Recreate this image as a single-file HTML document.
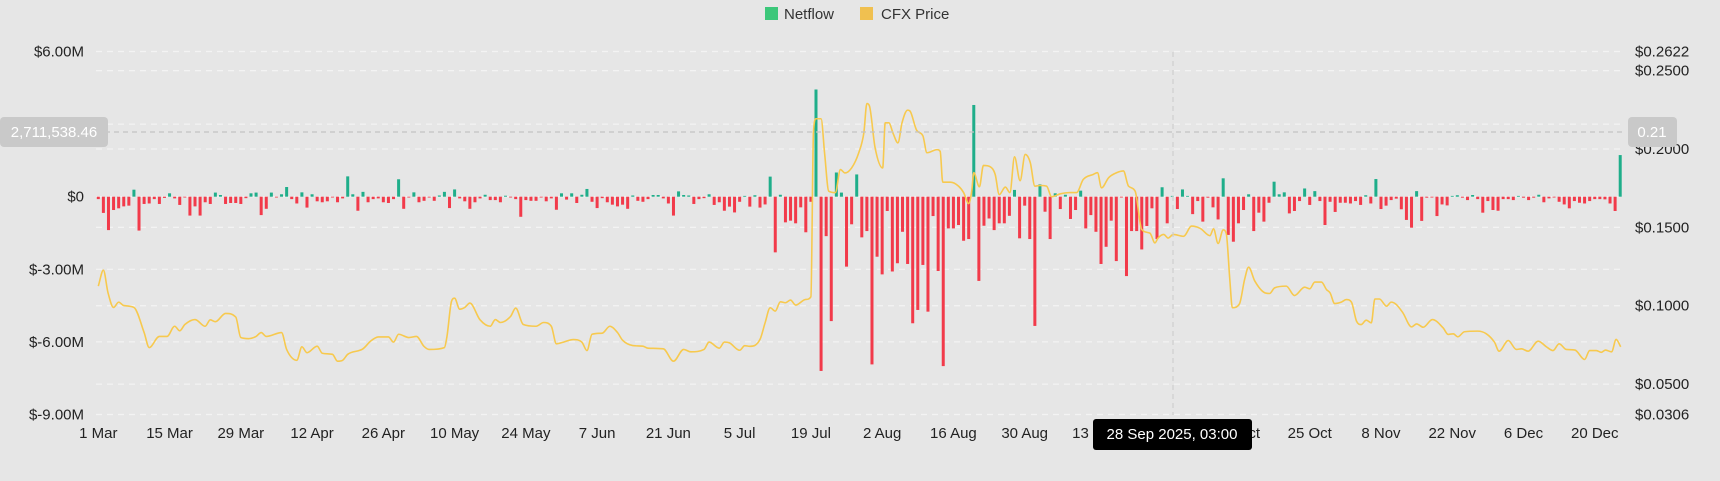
<!DOCTYPE html>
<html><head><meta charset="utf-8">
<style>
html,body{margin:0;padding:0;background:#e6e6e6;}
svg{display:block;font-family:"Liberation Sans Narrow","Liberation Sans",sans-serif;}
</style></head>
<body>
<svg id="chart" width="1720" height="481" viewBox="0 0 1720 481" xmlns="http://www.w3.org/2000/svg">
<rect width="1720" height="481" fill="#e6e6e6"/>
<g id="legend">
  <g><rect x="765" y="7" width="13" height="13" fill="#3cc77a"/><text x="784" y="19" font-size="15" fill="#333">Netflow</text></g>
  <g><rect x="860" y="7" width="13" height="13" fill="#f0c050"/><text x="881" y="19" font-size="15" fill="#333">CFX Price</text></g>
</g>
<g id="grid"></g>
<g id="yleft"></g>
<g id="yright"></g>
<g id="bars"></g>
<path id="priceLine" fill="none" stroke="#f7c94e" stroke-width="1.6"/>
<g id="xaxis"></g>
<g id="crosshair">
  <line x1="96" x2="1625" y1="132" y2="132" stroke="#c4c4c4" stroke-width="1.2" stroke-dasharray="5,4"/>
  <line x1="1173" x2="1173" y1="52" y2="415" stroke="#cfcfcf" stroke-width="1.2" stroke-dasharray="5,4"/>
  <g><rect x="0" y="117" width="108" height="30" rx="4" fill="#c9c9c9"/><text x="54" y="137" font-size="15" fill="#fff" text-anchor="middle">2,711,538.46</text></g>
  <g><rect x="1628" y="117" width="49" height="30" rx="4" fill="#c9c9c9"/><text x="1652" y="137" font-size="15" fill="#fff" text-anchor="middle">0.21</text></g>
  <g><rect x="1093" y="419" width="159" height="31" rx="3" fill="#000"/><text x="1172" y="439" font-size="15" fill="#fff" text-anchor="middle">28 Sep 2025, 03:00</text></g>
</g>
</svg>
<script>
// ---- data ----
const xTickLabels = ["1 Mar","15 Mar","29 Mar","12 Apr","26 Apr","10 May","24 May","7 Jun","21 Jun","5 Jul","19 Jul","2 Aug","16 Aug","30 Aug","13 Sep","27 Sep","11 Oct","25 Oct","8 Nov","22 Nov","6 Dec","20 Dec"];
const leftTicks = [6,3,0,-3,-6,-9];
const leftTickLabels = ["$6.00M","","$0","$-3.00M","$-6.00M","$-9.00M"];
const rightTicks = [0.2622,0.25,0.2,0.15,0.1,0.05,0.0306];
const rightTickLabels = ["$0.2622","$0.2500","$0.2000","$0.1500","$0.1000","$0.0500","$0.0306"];
// daily netflow, millions USD, starting 1 Mar
const netflow = [
-0.1,-0.67,-1.38,-0.55,-0.48,-0.4,-0.37,0.29,-1.4,-0.3,
-0.28,-0.1,-0.3,-0.05,0.14,-0.07,-0.34,-0.02,-0.78,-0.4,
-0.78,-0.23,-0.3,0.17,0.07,-0.3,-0.26,-0.26,-0.3,-0.06,
0.14,0.17,-0.76,-0.5,0.17,-0.02,0.1,0.4,-0.1,-0.28,
0.18,-0.45,0.1,-0.19,-0.23,-0.19,-0.02,-0.23,-0.07,0.84,
0.1,-0.58,0.2,-0.23,-0.1,-0.07,-0.23,-0.26,-0.1,0.72,
-0.5,-0.02,0.18,-0.23,
-0.17,-0.02,-0.17,0.05,0.2,-0.47,0.3,-0.07,-0.19,-0.5,
-0.23,-0.07,0.08,-0.14,-0.14,-0.23,0.04,-0.02,-0.1,-0.83,
-0.14,-0.17,-0.17,-0.03,-0.19,-0.07,-0.54,0.14,-0.12,0.14,
-0.26,0.08,0.32,-0.21,-0.47,-0.06,-0.23,-0.33,-0.4,-0.33,
-0.5,0.05,-0.17,-0.21,-0.1,0.07,0.07,-0.07,-0.28,-0.78,
0.22,0.07,0.05,-0.3,-0.1,-0.06,0.1,-0.34,-0.23,-0.58,
-0.41,-0.65,-0.21,0.02,-0.41,0.06,-0.45,-0.32,0.83,-2.3,
0.08,-1.06,-0.99,-1.1,-0.44,-1.47,-0.21,4.43,-7.2,-1.63,
-5.14,1.0,0.17,-2.89,-1.14,0.92,-1.68,-1.42,-6.93,-2.48,
-3.21,-0.59,-3.09,-2.75,-1.45,-2.78,-5.23,-4.68,-2.82,-4.75,
-0.8,-3.07,-7.0,-1.31,-1.31,-1.17,-1.82,-1.75,3.79,-3.48,
-1.2,-0.9,-1.38,-1.1,-1.1,-0.79,0.28,-1.72,-0.37,-1.75,
-5.34,0.51,-0.62,-1.75,0.14,-0.51,0.08,-0.92,-0.55,0.25,
-1.31,-0.76,-1.45,-2.78,-2.07,-0.99,-2.66,-0.03,-3.28,-1.42,
-1.42,-2.18,-1.21,-0.48,-1.75,0.39,-1.1,0,-0.51,0.3,
0.03,-0.72,-0.18,-1.03,-0.04,-0.44,-0.94,
0.76,-1.58,-1.86,-1.1,-0.55,0.1,-1.42,-0.66,-1.03,
-0.25,0.62,0.1,0.18,-0.69,-0.59,-0.18,0.34,-0.34,0.23,
-0.18,-1.17,-0.21,-0.63,-0.25,-0.25,-0.28,-0.18,-0.34,0.06,
-0.28,0.73,-0.51,-0.37,-0.14,-0.08,-0.52,-0.96,-1.28,0.23,
-1.0,-0.04,-0.03,-0.8,-0.32,-0.36,0.03,0.06,-0.04,-0.14,
0.07,-0.1,-0.66,-0.18,-0.55,-0.58,-0.1,-0.1,-0.14,0.03,
-0.04,-0.14,-0.04,0.08,-0.23,-0.07,-0.03,-0.21,-0.32,-0.48,
-0.18,-0.25,-0.28,-0.18,-0.1,-0.1,-0.11,-0.28,-0.59,1.72];
// CFX price samples: day offset from 1 Mar, price USD
const priceDays = [0,1,1.9,3,4,5,7,9,10,12,13.5,15,16,17,19,21,22,23,25,27,28,29.5,31,32,33,36,37,39,40,41,43,44,46,47,48,49,52,53.5,55,57,58,59,61,62.5,64,65,68,68.5,69.4,70,71,72,73,75,77,78,79,81,82,83.5,86,87.5,89,90,91.4,93.3,95,96,97,99,100.5,102,103,105,107,108,111,113,115,116.4,119,120,122,123,124,126,127,128,130,131,132,133,134,135,136,137,139,140,140.5,141,142,142.7,143.5,144.8,145.8,146.7,148,149.4,150.4,151,151.5,152.6,154.1,154.6,155.3,156.2,157.1,157.9,159,159.5,160.8,162,162.8,164.8,165.4,165.9,167.4,169,170,171,171.6,172,173.1,173.9,175.2,176.2,177,178.2,179.1,180,181.1,182.1,183.1,184,185,186.3,187.3,189,190.9,192.2,193.5,195.5,196.3,197.1,198.5,200.1,201.4,202.4,203.7,205,206.6,207.6,208.2,209.3,210.2,211.2,213.2,214.8,216.5,218.4,219.1,220,221,221.6,222.3,222.8,224.2,225.2,226,227.2,229.2,230.1,231.1,233.4,235,237,238,239,240.3,241.3,242,242.9,244.2,245.2,246.2,247.2,248.1,249.1,250.1,250.8,251.7,253.1,254,255,256.3,258,259,260.3,262.1,264.2,265.2,266.2,267.1,268.4,271,272.7,274.3,275.2,277,278.6,279.6,280.9,282.9,284.5,285.8,287,288.4,290.1,292,293,294.3,295.3,296.1,297.3,298.2,299.1];
const priceValues = [.1125,.1227,.1084,.0989,.1023,.1001,.0989,.0829,.0733,.0804,.0804,.0869,.084,.088,.0912,.0869,.091,.0898,.0951,.0928,.0797,.079,.0804,.0829,.0804,.0829,.0721,.0652,.0738,.07,.0742,.0697,.069,.0646,.0652,.069,.0725,.0774,.0801,.0801,.0768,.0818,.0797,.0804,.074,.0721,.0733,.0804,.1029,.1048,.0978,.0989,.1017,.091,.0869,.0912,.0893,.0932,.0985,.088,.0869,.0893,.0869,.0757,.0768,.0784,.0768,.0714,.0818,.0825,.0869,.0829,.078,.0746,.0742,.0729,.0725,.0646,.0721,.0706,.0721,.0768,.0729,.0768,.0763,.0716,.0745,.0741,.0785,.0891,.0987,.0966,.1025,.1019,.1036,.1004,.104,.1057,.2103,.2193,.2193,.197,.1731,.1722,.1869,.1847,.1879,.1976,.2103,.229,.2275,.201,.1879,.2167,.2167,.2095,.2039,.2167,.2248,.2241,.2118,.2084,.1976,.1996,.1985,.1788,.1788,.1763,.1722,.1652,.1731,.1849,.1759,.1895,.1887,.1838,.1709,.1757,.1722,.195,.1798,.1965,.1913,.1763,.1767,.1763,.1695,.1714,.1722,.1722,.1805,.1838,.1849,.1752,.1817,.1849,.186,.1763,.1731,.1486,.1463,.1401,.1432,.1455,.1432,.1455,.1443,.1508,.1493,.1447,.1491,.1397,.1484,.1461,.1167,.0987,.1012,.1167,.1246,.1158,.1082,.1078,.1114,.1125,.1065,.1118,.1108,.1151,.1151,.1103,.1082,.1014,.1023,.1039,.1023,.0901,.088,.0908,.0891,.1043,.1043,.0997,.1023,.1008,.0955,.0865,.0884,.0863,.0912,.0859,.0817,.0821,.0802,.0834,.0838,.0821,.0767,.071,.0778,.0721,.0725,.071,.0774,.0738,.0714,.0757,.0721,.0717,.0657,.0714,.0714,.0703,.0717,.0706,.0785,.0738];

// ---- scales ----
const NS="http://www.w3.org/2000/svg";
const X0=98.3, DX=5.09;
function xDay(d){return X0+d*DX;}
const nTop=6, nBot=-9, yTop=51.5, yBot=414.5;
function yNet(v){return yTop+(nTop-v)/(nTop-nBot)*(yBot-yTop);}
const pTop=0.2622, pBot=0.0306;
function yPrice(p){return yTop+(pTop-p)/(pTop-pBot)*(yBot-yTop);}
function mk(tag,attrs,parent){const e=document.createElementNS(NS,tag);for(const k in attrs)e.setAttribute(k,attrs[k]);parent.appendChild(e);return e;}

// grid
const grid=document.getElementById('grid');
const gridYs=[];
leftTicks.forEach(v=>gridYs.push(yNet(v)));
rightTicks.forEach(v=>gridYs.push(yPrice(v)));
gridYs.forEach(y=>{
  const l=mk('line',{x1:96,x2:1625,y1:y,y2:y,stroke:'#f3f3f3','stroke-width':1.2,'stroke-dasharray':'6,5'},grid);
  
  
});
// left axis
const yl=document.getElementById('yleft');
leftTicks.forEach((v,i)=>{
  if(!leftTickLabels[i])return;
  const t=mk('text',{x:84,y:yNet(v)+5,'font-size':15,fill:'#222','text-anchor':'end'},yl);
  t.textContent=leftTickLabels[i];
  
  
});
// right axis
const yr=document.getElementById('yright');
rightTicks.forEach((v,i)=>{
  const t=mk('text',{x:1635,y:yPrice(v)+5,'font-size':15,fill:'#222'},yr);
  t.textContent=rightTickLabels[i];
  
  
});
// bars
const bars=document.getElementById('bars');
const y0=yNet(0);
netflow.forEach((v,i)=>{
  const y=yNet(v);
  const h=Math.max(Math.abs(y-y0),0.8);
  const r=mk('rect',{x:xDay(i)-1.5,y:v>=0?y0-h:y0,width:3,height:h,fill:v>=0?'#1fae8a':'#f23a4a'},bars);
  
  
});
// price line (monotone cubic)
(function(){
  const xs=priceDays.map(xDay), ys=priceValues.map(yPrice), n=xs.length;
  const dx=[],m=[],t=new Array(n);
  for(let i=0;i<n-1;i++){dx.push(xs[i+1]-xs[i]);m.push((ys[i+1]-ys[i])/(xs[i+1]-xs[i]));}
  t[0]=m[0];t[n-1]=m[n-2];
  for(let i=1;i<n-1;i++){t[i]=(m[i-1]*m[i]<=0)?0:(m[i-1]+m[i])/2;}
  for(let i=0;i<n-1;i++){if(m[i]===0){t[i]=0;t[i+1]=0;continue;}const a=t[i]/m[i],b=t[i+1]/m[i],s=a*a+b*b;if(s>9){const k=3/Math.sqrt(s);t[i]=k*a*m[i];t[i+1]=k*b*m[i];}}
  let d='M'+xs[0].toFixed(2)+','+ys[0].toFixed(2);
  for(let i=0;i<n-1;i++){const h=dx[i]/3;d+=' C'+(xs[i]+h).toFixed(2)+','+(ys[i]+t[i]*h).toFixed(2)+' '+(xs[i+1]-h).toFixed(2)+','+(ys[i+1]-t[i+1]*h).toFixed(2)+' '+xs[i+1].toFixed(2)+','+ys[i+1].toFixed(2);}
  document.getElementById('priceLine').setAttribute('d',d);
})();
// x axis
const xa=document.getElementById('xaxis');
xTickLabels.forEach((s,i)=>{
  const t=mk('text',{x:xDay(i*14),y:438,'font-size':15,fill:'#222','text-anchor':'middle'},xa);
  t.textContent=s;
  
  
});
</script>
</body></html>
